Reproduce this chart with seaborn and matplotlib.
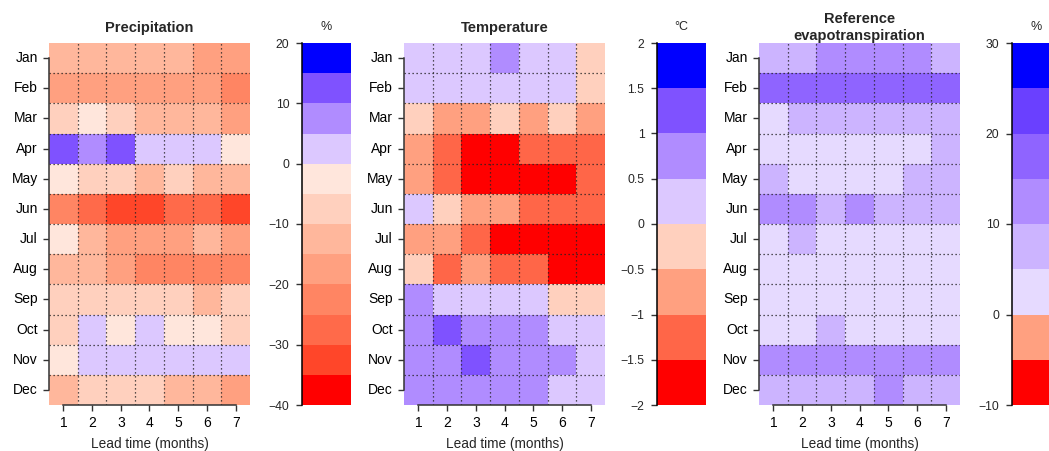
import numpy as np
import pandas as pd
import matplotlib
matplotlib.use("Agg")
import matplotlib.pyplot as plt
from matplotlib import font_manager
from matplotlib.colors import ListedColormap, BoundaryNorm
from matplotlib.ticker import NullLocator
import seaborn as sns

# ---------------------------------------------------------------------------
# Data: change per target month (rows) and lead time in months (columns)
# ---------------------------------------------------------------------------
months = ["Jan", "Feb", "Mar", "Apr", "May", "Jun",
          "Jul", "Aug", "Sep", "Oct", "Nov", "Dec"]
lead_times = [1, 2, 3, 4, 5, 6, 7]

# Precipitation change (%)
precip = [
    [-12.5, -12.5, -12.5, -12.5, -12.5, -17.5, -17.5],
    [-17.5, -17.5, -17.5, -17.5, -17.5, -17.5, -22.5],
    [-7.5, -2.5, -7.5, -12.5, -12.5, -12.5, -17.5],
    [12.5, 7.5, 12.5, 2.5, 2.5, 2.5, -2.5],
    [-2.5, -7.5, -7.5, -12.5, -7.5, -12.5, -12.5],
    [-22.5, -27.5, -32.5, -32.5, -27.5, -27.5, -32.5],
    [-2.5, -12.5, -17.5, -17.5, -17.5, -12.5, -17.5],
    [-12.5, -12.5, -17.5, -22.5, -22.5, -22.5, -22.5],
    [-7.5, -7.5, -7.5, -7.5, -7.5, -12.5, -7.5],
    [-7.5, 2.5, -2.5, 2.5, -2.5, -2.5, -7.5],
    [-2.5, 2.5, 2.5, 2.5, 2.5, 2.5, 2.5],
    [-12.5, -7.5, -7.5, -7.5, -12.5, -12.5, -17.5],
]

# Temperature change (°C)
temp = [
    [0.25, 0.25, 0.25, 0.75, 0.25, 0.25, -0.25],
    [0.25, 0.25, 0.25, 0.25, 0.25, 0.25, -0.25],
    [-0.25, -0.75, -0.75, -0.25, -0.75, -0.25, -0.75],
    [-0.75, -1.25, -1.75, -1.75, -1.25, -1.25, -1.25],
    [-0.75, -1.25, -1.75, -1.75, -1.75, -1.75, -1.25],
    [0.25, -0.25, -0.75, -0.75, -1.25, -1.25, -1.25],
    [-0.75, -0.75, -1.25, -1.75, -1.75, -1.75, -1.75],
    [-0.25, -1.25, -0.75, -1.25, -1.25, -1.75, -1.75],
    [0.75, 0.25, 0.25, 0.25, 0.25, -0.25, -0.25],
    [0.75, 1.25, 0.75, 0.75, 0.75, 0.25, 0.25],
    [0.75, 0.75, 1.25, 0.75, 0.75, 0.75, 0.25],
    [0.75, 0.75, 0.75, 0.75, 0.75, 0.25, 0.25],
]

# Reference evapotranspiration change (%)
et0 = [
    [7.5, 7.5, 12.5, 12.5, 12.5, 12.5, 7.5],
    [17.5, 17.5, 17.5, 17.5, 17.5, 17.5, 17.5],
    [2.5, 7.5, 7.5, 7.5, 7.5, 7.5, 7.5],
    [2.5, 2.5, 2.5, 2.5, 2.5, 2.5, 7.5],
    [7.5, 2.5, 2.5, 2.5, 2.5, 7.5, 7.5],
    [12.5, 12.5, 7.5, 12.5, 7.5, 7.5, 7.5],
    [2.5, 7.5, 2.5, 2.5, 2.5, 2.5, 2.5],
    [2.5, 2.5, 2.5, 2.5, 2.5, 2.5, 2.5],
    [2.5, 2.5, 2.5, 2.5, 2.5, 2.5, 2.5],
    [2.5, 2.5, 7.5, 2.5, 2.5, 2.5, 2.5],
    [12.5, 12.5, 12.5, 12.5, 12.5, 12.5, 12.5],
    [7.5, 7.5, 7.5, 7.5, 12.5, 7.5, 7.5],
]

# Class breaks, colours and colour-bar ticks for each variable
precip_levels = [-40, -35, -30, -25, -20, -15, -10, -5, 0, 5, 10, 15, 20]
precip_colors = ["#FF0000", "#FF4629", "#FF6A4A", "#FF8563", "#FFA080",
                 "#FFB79C", "#FFD0BE", "#FFE6DC", "#DCC8FF", "#B08CFF",
                 "#7F52FF", "#0000FF"]
precip_ticks = [-40, -30, -20, -10, 0, 10, 20]
precip_tick_labels = ["\u221240", "\u221230", "\u221220", "\u221210", "0", "10", "20"]

temp_levels = [-2, -1.5, -1, -0.5, 0, 0.5, 1, 1.5, 2]
temp_colors = ["#FF0000", "#FF6648", "#FFA080", "#FFD0BE",
               "#DCC8FF", "#B08CFF", "#7F52FF", "#0000FF"]
temp_ticks = [-2, -1.5, -1, -0.5, 0, 0.5, 1, 1.5, 2]
temp_tick_labels = ["\u22122", "\u22121.5", "\u22121", "\u22120.5", "0",
                    "0.5", "1", "1.5", "2"]

et_levels = [-10, -5, 0, 5, 10, 15, 20, 25, 30]
et_colors = ["#FF0000", "#FFA080", "#E6DAFF", "#CCB4FF",
             "#B08CFF", "#8F64FF", "#6A40FF", "#0000FF"]
et_ticks = [-10, 0, 10, 20, 30]
et_tick_labels = ["\u221210", "0", "10", "20", "30"]

titles = ["Precipitation", "Temperature", "Reference\nevapotranspiration"]
units = ["%", "\u00b0C", "%"]

# ---------------------------------------------------------------------------
# Fonts: use the regular-width Liberation Sans, not the Narrow cut
# ---------------------------------------------------------------------------
font_manager.fontManager.ttflist = [
    f for f in font_manager.fontManager.ttflist if "Narrow" not in f.fname
]
try:
    font_manager.fontManager._findfont_cached.cache_clear()
except AttributeError:
    pass

# ---------------------------------------------------------------------------
# Figure
# ---------------------------------------------------------------------------
sns.set_theme(style="white")
plt.rcParams["font.family"] = ["Liberation Sans", "DejaVu Sans"]

W, H = 1049, 451
fig = plt.figure(figsize=(W / 100, H / 100), dpi=100)


def px_box(x0, y0, x1, y1):
    """Axes rectangle from pixel edges (origin top-left)."""
    return [x0 / W, 1 - y1 / H, (x1 - x0) / W, (y1 - y0) / H]


TOP, BOTTOM = 43, 405
HEAT_W, BAR_W = 201, 49
heat_left = [49, 404, 759]
bar_left = [302, 657, 1012]

panels = [
    (precip, precip_levels, precip_colors, precip_ticks, precip_tick_labels),
    (temp, temp_levels, temp_colors, temp_ticks, temp_tick_labels),
    (et0, et_levels, et_colors, et_ticks, et_tick_labels),
]

ink = "#222222"

for i, (vals, levels, colors, ticks, tick_labels) in enumerate(panels):
    ax = fig.add_axes(px_box(heat_left[i], TOP, heat_left[i] + HEAT_W, BOTTOM))
    cax = fig.add_axes(px_box(bar_left[i], TOP, bar_left[i] + BAR_W, BOTTOM))

    df = pd.DataFrame(vals, index=months, columns=lead_times)
    cmap = ListedColormap(colors)
    norm = BoundaryNorm(levels, cmap.N)

    sns.heatmap(df, ax=ax, cmap=cmap, norm=norm, cbar_ax=cax,
                cbar_kws={"ticks": ticks, "spacing": "proportional"},
                xticklabels=lead_times, yticklabels=months, linewidths=0)

    # dotted lines on the cell boundaries
    for x in np.arange(1, len(lead_times)):
        ax.axvline(x, color=ink, lw=0.9, ls=(0, (1, 2.2)), zorder=3)
    for y in np.arange(1, len(months)):
        ax.axhline(y, color=ink, lw=0.9, ls=(0, (1, 2.2)), zorder=3)

    # axis lines spanning first to last tick
    for side in ("top", "right"):
        ax.spines[side].set_visible(False)
    ax.spines["left"].set_visible(True)
    ax.spines["bottom"].set_visible(True)
    ax.spines["left"].set_bounds(0.5, len(months) - 0.5)
    ax.spines["bottom"].set_bounds(0.5, len(lead_times) - 0.5)
    for side in ("left", "bottom"):
        ax.spines[side].set_color("#333333")
        ax.spines[side].set_linewidth(1.1)
        ax.spines[side].set_zorder(4)

    ax.tick_params(axis="both", which="major", bottom=True, left=True,
                   direction="out", length=4.5, width=1.0, color="#333333",
                   labelsize=10, labelcolor="black", pad=3.5)
    ax.tick_params(axis="y", pad=3.5)
    ax.set_yticklabels(months, rotation=0)
    ax.set_xticklabels(lead_times, rotation=0)
    ax.set_xlabel("Lead time (months)", fontsize=9.8, labelpad=5)
    ax.set_ylabel("")

    if "\n" in titles[i]:
        ax.set_title(titles[i], fontsize=10.5, fontweight="bold",
                     pad=2, linespacing=1.3)
    else:
        ax.set_title(titles[i], fontsize=10.5, fontweight="bold", pad=8)

    # colour bar: ticks and axis line on the left
    cax.yaxis.set_ticks_position("left")
    cax.set_yticks(ticks)
    cax.set_yticklabels(tick_labels)
    cax.yaxis.set_minor_locator(NullLocator())
    cax.tick_params(axis="y", left=True, right=False, labelleft=True,
                    labelright=False, direction="out", length=4.5,
                    width=1.0, color="#333333", labelsize=8.8, pad=4.5)
    cax.spines["left"].set_visible(True)
    cax.spines["left"].set_color("black")
    cax.spines["left"].set_linewidth(1.1)
    cax.set_title(units[i], fontsize=9, pad=9)

fig.savefig("out.png", dpi=100)
